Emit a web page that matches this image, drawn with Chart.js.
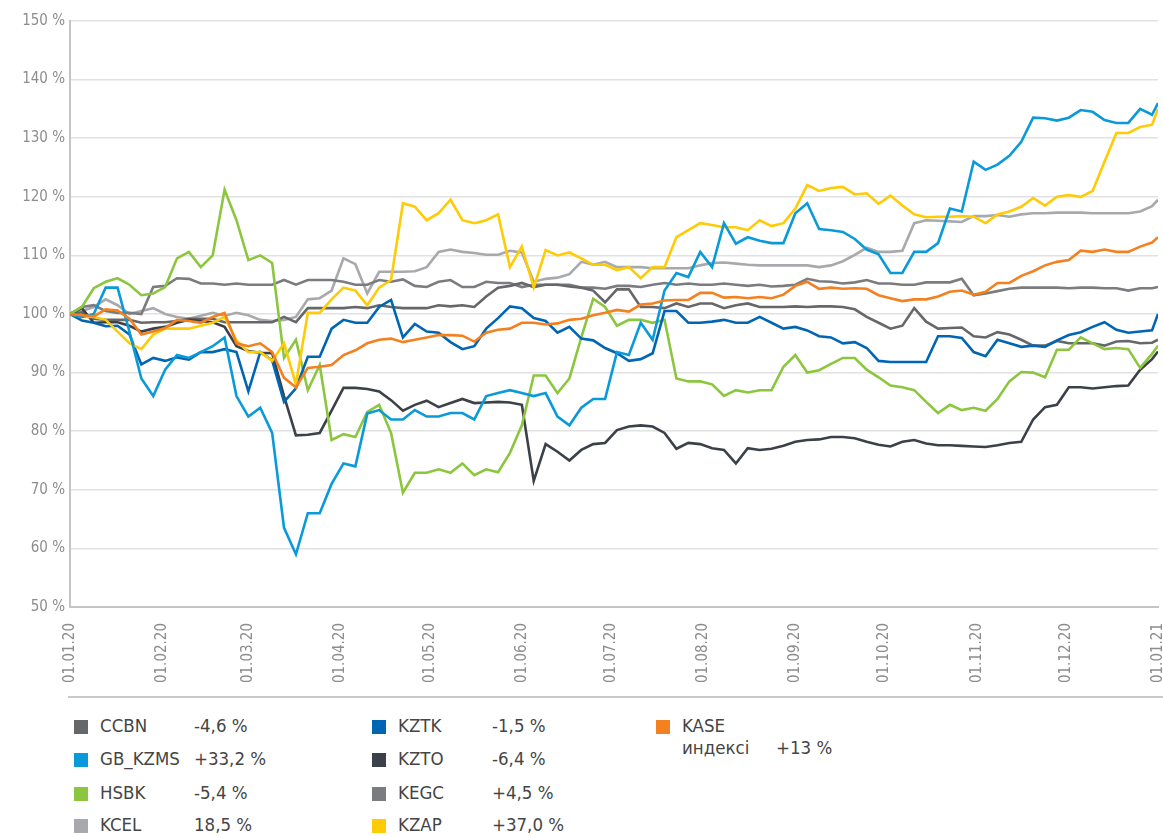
<!DOCTYPE html>
<html>
<head>
<meta charset="utf-8">
<script src="https://cdn.jsdelivr.net/npm/chart.js@4.4.1/dist/chart.umd.min.js"></script>
<style>
  body { margin: 0; background: #fff; overflow: hidden; width: 1163px; height: 836px; position: relative; }
  #wrap { position: absolute; left: 0; top: 0; width: 1184px; height: 700px; }
  .lg { position: absolute; font-family: 'Liberation Sans Narrow', 'DejaVu Sans Condensed', sans-serif; font-size: 18.5px; color: #454545; white-space: nowrap; }
  .sw { position: absolute; width: 14px; height: 14px; }
</style>
</head>
<body>
<div id="wrap"><canvas id="chart"></canvas></div>
<div id="legend"></div>
<script>
// day offsets from 01.01.20 (x positions of the samples)
const days = [0,4,8,12,16,20,24,28,32,36,40,44,48,52,56,60,64,68,72,76,80,84,88,92,96,100,104,108,112,116,120,124,128,132,136,140,144,148,152,156,160,164,168,172,176,180,184,188,192,196,200,204,208,212,216,220,224,228,232,236,240,244,248,252,256,260,264,268,272,276,280,284,288,292,296,300,304,308,312,316,320,324,328,332,336,340,344,348,352,356,360,364,366];

// month tick positions and labels
const monthDays = [0,31,60,91,121,152,182,213,244,274,305,335,366];
const monthLabels = ['01.01.20','01.02.20','01.03.20','01.04.20','01.05.20','01.06.20','01.07.20','01.08.20','01.09.20','01.10.20','01.11.20','01.12.20','01.01.21'];

// series values, % of 01.01.20 level
const CCBN = [100,100.3,99.2,99,99,99,98.5,98.6,98.6,98.8,
  99.2,99.2,99.2,98.6,98.6,98.6,98.6,98.6,99.5,98.6,
  101,101,101,101,101.2,101,101.5,101.2,101,101,
  101,101.5,101.3,101.5,101.2,103,104.5,104.8,105.3,104.6,
  105,105,104.7,104.5,104,102,104.2,104.2,101.2,101.2,
  101,101.8,101.2,101.8,101.8,101,101.5,101.8,101.2,101.2,
  101.2,101.3,101.2,101.3,101.3,101.2,100.8,99.5,98.5,97.5,
  98,101,98.7,97.5,97.6,97.7,96.2,96,96.9,96.5,
  95.6,94.6,94.6,95.4,95,95,95,94.6,95.3,95.4,
  95,95.1,95.6];

const GB_KZMS = [100,99.5,100,104.5,104.5,97,89,86,90.5,93,
  92.5,93.5,94.5,96,86,82.5,84,79.7,63.5,59,
  66,66,71,74.5,74,83,83.6,82,82,83.6,
  82.5,82.5,83.1,83.1,82,86,86.5,87,86.5,86,
  86.5,82.5,81,84,85.5,85.5,93.5,93,98.5,95.6,
  104,107,106.3,110.6,108,115.5,112,113.1,112.5,112.1,
  112.1,117.2,118.9,114.5,114.3,114,112.8,111,110.2,107,
  107,110.6,110.6,112.1,118,117.5,126,124.6,125.5,127,
  129.4,133.5,133.4,133,133.5,134.8,134.5,133.1,132.6,132.6,
  135,134,136];

const HSBK = [100,101.2,104.4,105.5,106.1,105,103.2,103.5,104.6,109.5,
  110.6,108,110,121.2,116,109.2,110,108.7,92.5,95.6,
  87,91.3,78.5,79.5,79,83.3,84.5,79.7,69.5,72.9,
  72.9,73.5,72.9,74.5,72.5,73.5,73,76.3,81,89.5,
  89.5,86.5,89,96,102.6,101.2,98,99,99,98.5,
  99,89,88.5,88.5,88,86,87,86.6,87,87,
  91,93,90,90.4,91.5,92.5,92.5,90.5,89.2,87.8,
  87.5,87,85,83.1,84.5,83.6,84,83.5,85.5,88.5,
  90.1,90,89.2,93.9,93.9,96,95,94,94.2,94,
  90.8,93.2,94.6];

const KCEL = [100,100.5,101.2,102.5,101.5,100,100.5,101,100,99.5,
  99.2,99.7,100.2,99.7,100.2,99.8,99,98.8,99,99.5,
  102.5,102.7,104,109.5,108.5,103.5,107.2,107.2,107.2,107.3,
  108,110.6,111,110.6,110.4,110.1,110.1,110.8,110.5,105.5,
  106,106.2,106.8,108.9,108.4,108.9,108,108,108,107.8,
  107.8,107.8,107.8,108.3,108.7,108.8,108.6,108.4,108.3,108.3,
  108.3,108.3,108.3,108,108.3,109,110.1,111.3,110.6,110.6,
  110.8,115.5,116,115.9,115.8,115.7,116.7,116.7,116.9,116.6,
  117,117.2,117.2,117.3,117.3,117.3,117.2,117.2,117.2,117.2,
  117.5,118.4,119.5];

const KZTK = [100,98.9,98.5,97.9,98,96.5,91.4,92.5,92,92.6,
  92.2,93.5,93.5,94,93.5,86.8,93.5,92.1,85,87.3,
  92.7,92.7,97.5,99,98.5,98.5,101.2,102.4,96,98.3,
  97,96.8,95.2,94,94.5,97.5,99.3,101.3,101,99.3,
  98.8,96.8,97.8,95.8,95.5,94.2,93.3,92,92.3,93.3,
  100.5,100.5,98.5,98.5,98.7,99,98.5,98.5,99.5,98.5,
  97.5,97.8,97.2,96.2,96,95,95.2,94.2,92,91.8,
  91.8,91.8,91.8,96.2,96.2,95.9,93.5,92.8,95.6,95,
  94.4,94.6,94.4,95.5,96.4,96.9,97.8,98.6,97.3,96.8,
  97,97.2,100];

const KZTO = [100,101,98.5,98.6,98.6,98,97,97.5,97.8,98.5,
  99,98.8,98.6,97.8,94.5,93.7,93.4,93.3,86,79.3,
  79.4,79.7,83.5,87.4,87.4,87.2,86.8,85.3,83.5,84.5,
  85.2,84.1,84.8,85.5,84.8,84.9,85,84.9,84.5,71.5,
  77.8,76.5,75,76.8,77.8,78,80.2,80.8,81,80.8,
  79.7,77,78,77.8,77.1,76.8,74.5,77.1,76.8,77,
  77.5,78.2,78.5,78.6,79,79,78.8,78.2,77.7,77.4,
  78.2,78.5,77.9,77.6,77.6,77.5,77.4,77.3,77.6,78,
  78.2,82,84.1,84.5,87.5,87.5,87.3,87.5,87.7,87.8,
  90.5,92.3,93.6];

const KEGC = [100,101.2,101.5,100.5,100.2,100.2,100,104.6,104.8,106.1,
  106,105.2,105.2,105,105.2,105,105,105,105.8,105,
  105.8,105.8,105.8,105.5,105,105,105.8,105.5,105.9,104.8,
  104.6,105.5,105.8,104.6,104.6,105.5,105.3,105.3,104.6,105,
  105,105,105,104.5,104.5,104.3,104.8,104.8,104.6,105,
  105.3,105,105.2,105,105,105.2,105,104.8,105,104.7,
  104.8,105,106,105.6,105.5,105.2,105.4,105.8,105.2,105.2,
  105,105,105.4,105.4,105.4,106,103.2,103.5,103.9,104.3,
  104.5,104.5,104.5,104.5,104.4,104.5,104.5,104.4,104.4,104,
  104.4,104.4,104.6];

const KZAP = [100,99.5,99.5,99,97,95,94,96.5,97.5,97.5,
  97.5,98,98.5,99.5,95.5,93.5,93.5,92,95,88,
  100.2,100.2,102.5,104.5,104,101.5,104.5,105.8,118.9,118.3,
  116,117.2,119.5,116,115.5,116,117,108,111.5,104.5,
  110.9,110,110.5,109.5,108.4,108.4,107.5,108,106.1,108,
  108,113.1,114.3,115.5,115.2,114.8,114.8,114.3,116,115,
  115.5,118,122,121,121.5,121.7,120.4,120.6,118.8,120.2,
  118.5,117,116.5,116.6,116.6,116.7,116.6,115.5,117,117.5,
  118.3,119.8,118.5,120,120.3,120,121,126,130.9,130.9,
  131.9,132.3,135];

const KASE = [100,99.8,99.6,100.8,100.6,99.2,96.5,97,97.6,99,
  98.8,98.5,99.5,100.2,95,94.5,95,93.5,89.1,87.5,
  90.8,91,91.3,93,93.8,95,95.6,95.8,95.2,95.6,
  96,96.4,96.4,96.3,95.3,96.8,97.3,97.5,98.5,98.5,
  98.2,98.4,99,99.2,99.8,100.2,100.7,100.4,101.6,101.8,
  102.3,102.4,102.4,103.6,103.6,102.8,102.9,102.7,102.9,102.7,
  103.3,104.8,105.5,104.3,104.5,104.3,104.4,104.3,103.2,102.7,
  102.2,102.5,102.5,103,103.8,104,103.3,103.8,105.3,105.3,
  106.5,107.3,108.3,108.9,109.2,110.8,110.6,111,110.6,110.6,
  111.5,112.2,113.1];

// legend entries
const names = ['CCBN','GB_KZMS','HSBK','KCEL','KZTK','KZTO','KEGC','KZAP','KASE\nиндексі'];
const changes = ['-4,6 %','+33,2 %','-5,4 %','18,5 %','-1,5 %','-6,4 %','+4,5 %','+37,0 %','+13 %'];
const colors = ['#666769','#0a9ad9','#8cc63f','#a7a9ac','#0066b3','#3c4149','#7b7c7f','#ffcb05','#f4801f'];
const seriesData = [CCBN, GB_KZMS, HSBK, KCEL, KZTK, KZTO, KEGC, KZAP, KASE];

const FONT = "'Liberation Sans Narrow', 'DejaVu Sans Condensed', sans-serif";

// draw order: first dataset ends up on top
const drawOrder = [8, 1, 7, 4, 2, 5, 0, 6, 3];
const datasets = drawOrder.map(i => ({
    label: names[i],
    data: days.map((d, k) => ({ x: d, y: seriesData[i][k] })),
    borderColor: colors[i],
    borderWidth: 2.6,
    pointRadius: 0,
    tension: 0,
    fill: false
}));

// bottom rule under the date labels
const bottomRule = {
    id: 'bottomRule',
    afterDraw(chart) {
        const { ctx, chartArea } = chart;
        ctx.save();
        ctx.strokeStyle = '#c9c9c9';
        ctx.lineWidth = 2;
        ctx.beginPath();
        ctx.moveTo(chartArea.left - 2, chartArea.bottom + 90);
        ctx.lineTo(chart.width, chartArea.bottom + 90);
        ctx.stroke();
        ctx.restore();
    }
};

new Chart(document.getElementById('chart'), {
    type: 'line',
    data: { datasets },
    options: {
        responsive: true,
        maintainAspectRatio: false,
        animation: false,
        layout: { padding: { top: 21, right: 0, left: 0, bottom: 0 } },
        plugins: { legend: { display: false }, tooltip: { enabled: false } },
        scales: {
            x: {
                type: 'linear',
                min: 0,
                max: 366,
                afterBuildTicks: (axis) => { axis.ticks = monthDays.map(v => ({ value: v })); },
                afterFit: (axis) => { axis.height = 93; },
                ticks: {
                    autoSkip: false,
                    minRotation: 90,
                    maxRotation: 90,
                    padding: 8,
                    color: '#8d8d8d',
                    font: { family: FONT, size: 15 },
                    callback: (v) => monthLabels[monthDays.indexOf(v)]
                },
                grid: { display: false },
                border: { display: true, color: '#c4c4c4', width: 2 }
            },
            y: {
                min: 50,
                max: 150,
                afterFit: (axis) => { axis.width = 70; },
                ticks: {
                    stepSize: 10,
                    padding: 5,
                    color: '#8d8d8d',
                    font: { family: FONT, size: 15 },
                    callback: (v) => v + ' %'
                },
                grid: { color: '#e2e2e2', lineWidth: 1.5, drawTicks: false },
                border: { display: true, color: '#c4c4c4', width: 2 }
            }
        }
    },
    plugins: [bottomRule]
});

// legend in three columns
const colX = [74, 372, 656];
const rowY = [727, 760, 794, 826];
const legend = document.getElementById('legend');
names.forEach((name, i) => {
    const col = Math.floor(i / 4);
    const row = i % 4;
    const x = colX[col];
    const y = rowY[row];
    const sw = document.createElement('div');
    sw.className = 'sw';
    sw.style.left = x + 'px';
    sw.style.top = (y - 7) + 'px';
    sw.style.background = colors[i];
    legend.appendChild(sw);

    const lines = name.split('\n');
    lines.forEach((t, j) => {
        const el = document.createElement('div');
        el.className = 'lg';
        el.textContent = t;
        el.style.left = (x + 26) + 'px';
        el.style.top = (y - 12 + j * 22) + 'px';
        legend.appendChild(el);
    });
    const v = document.createElement('div');
    v.className = 'lg';
    v.textContent = changes[i];
    v.style.left = (x + 120) + 'px';
    v.style.top = (y - 12 + (lines.length - 1) * 22) + 'px';
    legend.appendChild(v);
});
</script>
</body>
</html>
